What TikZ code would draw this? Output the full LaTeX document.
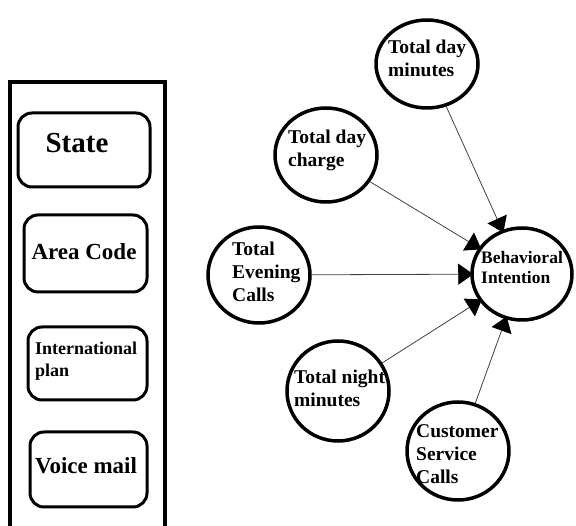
\documentclass[tikz,border=0pt]{standalone}
\usepackage{fontspec}
\setmainfont{Liberation Serif}
\usetikzlibrary{shapes.geometric,arrows.meta}
\begin{document}
\begin{tikzpicture}[x=1pt,y=-1pt,
  circ/.style={draw=black,line width=3.5pt,ellipse,inner sep=0pt},
  rbox/.style={draw=black,line width=3pt,rounded corners=14pt},
  lbl/.style={font=\bfseries\fontsize{19.5}{23}\selectfont,anchor=west,align=left,inner sep=0pt},
  conn/.style={draw=black!75,line width=0.8pt,-{Triangle[length=15pt,width=21pt,fill=black,color=black]},shorten >=-3pt}]
\useasboundingbox (0,0) rectangle (576,526);
\clip (0,0) rectangle (576,526);
% left panel
\draw[line width=3.5pt] (10,82) rectangle (165,540);
\draw[rbox] (18,113) rectangle (150,187);
\draw[rbox] (24,215) rectangle (147,292);
\draw[rbox] (28,327) rectangle (147,400);
\draw[rbox] (30,432) rectangle (147,507);
\node[font=\bfseries\fontsize{29}{32}\selectfont,inner sep=0pt] (st) at (77,143) {State};
\node[font=\bfseries\fontsize{23}{26}\selectfont,inner sep=0pt] (ac) at (84,252) {Area Code};
\node[font=\bfseries\fontsize{18}{22}\selectfont,anchor=west,align=left,inner sep=0pt] (ip) at (35,361) {International\\plan};
\node[font=\bfseries\fontsize{23}{26}\selectfont,inner sep=0pt] (vm) at (86,466) {Voice mail};
% circles
\node[circ,minimum width=102pt,minimum height=88pt] (tdm) at (427,64) {};
\node[circ,minimum width=102pt,minimum height=94pt] (tdc) at (326,155) {};
\node[circ,minimum width=102pt,minimum height=96pt] (tec) at (259,275) {};
\node[circ,minimum width=100pt,minimum height=92pt] (bi) at (522,274) {};
\node[circ,minimum width=102pt,minimum height=100pt] (tnm) at (338,391) {};
\node[circ,minimum width=102pt,minimum height=98pt] (csc) at (458,451) {};
% labels
\node[lbl] (ltdm) at (388,58.5) {Total day\\minutes};
\node[lbl] (ltdc) at (288,150) {Total day\\charge};
\node[lbl] (ltec) at (232,272) {Total\\Evening\\Calls};
\node[lbl,font=\bfseries\fontsize{17.5}{19.5}\selectfont] (lbi) at (481,267.5) {Behavioral\\Intention};
\node[lbl] (ltnm) at (294,388.5) {Total night\\minutes};
\node[lbl] (lcsc) at (416,454.5) {Customer\\Service\\Calls};
% connectors
\draw[conn] (tdm) -- (bi);
\draw[conn] (tdc) -- (bi);
\draw[conn] (tec) -- (bi);
\draw[conn] (tnm) -- (bi);
\draw[conn] (csc) -- (bi);
\end{tikzpicture}
\end{document}
